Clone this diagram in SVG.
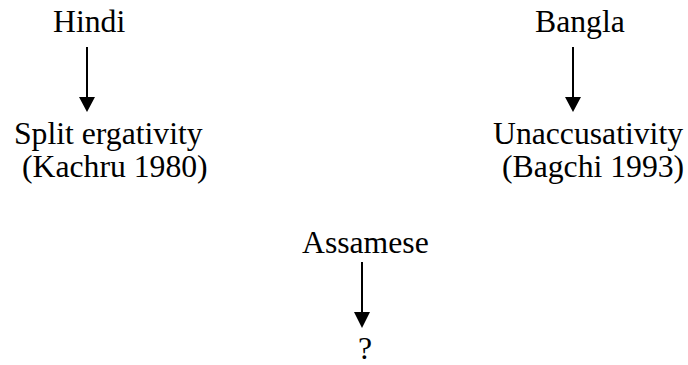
<svg xmlns="http://www.w3.org/2000/svg" width="688" height="365" viewBox="0 0 688 365">
<style>
text{font-family:"Liberation Serif","Times New Roman",serif;font-size:31.7px;fill:#000}
.ln{stroke:#000;stroke-width:2;fill:none}
.hd{fill:#000}
</style>
<rect width="688" height="365" fill="#fff"/>
<g id="hindi"><text x="53" y="32">Hindi</text></g>
<g id="split"><text x="14" y="144">Split ergativity</text><text x="22" y="177">(Kachru 1980)</text></g>
<g id="bangla"><text x="535" y="32">Bangla</text></g>
<g id="unacc"><text x="493" y="144">Unaccusativity</text><text x="502" y="177">(Bagchi 1993)</text></g>
<g id="assamese"><text x="302" y="253">Assamese</text></g>
<g id="q"><text x="358" y="359">?</text></g>
<g id="connectors">
<line class="ln" x1="87" y1="47" x2="87" y2="100"/><polygon class="hd" points="79,97 95,97 87,112"/>
<line class="ln" x1="573" y1="47" x2="573" y2="100"/><polygon class="hd" points="565,97 581,97 573,112"/>
<line class="ln" x1="362" y1="262" x2="362" y2="315"/><polygon class="hd" points="354,312 370,312 362,328"/>
</g>
</svg>
